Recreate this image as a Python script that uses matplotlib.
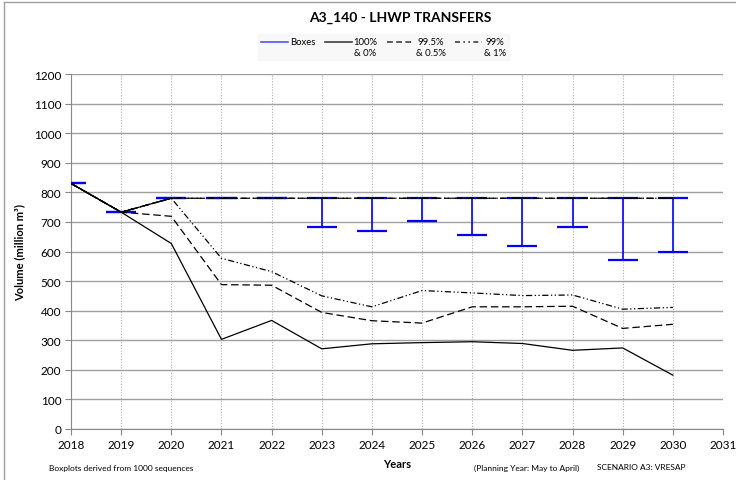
import matplotlib.pyplot as plt
from matplotlib.lines import Line2D
from matplotlib.legend_handler import HandlerLine2D

plt.rcParams['font.family'] = ['Lato', 'DejaVu Sans']

# planning years and simulated transfer volumes (million m3)
years = [2018, 2019, 2020, 2021, 2022, 2023, 2024, 2025, 2026, 2027, 2028, 2029, 2030]
box_top = [830, 733, 780, 780, 780, 780, 780, 780, 780, 780, 780, 780, 780]
box_bottom = [830, 733, 780, 780, 780, 682, 669, 702, 656, 619, 682, 572, 599]

upper_0 = [830, 733, 780, 780, 780, 780, 780, 780, 780, 780, 780, 780, 780]
upper_05 = [830, 733, 780, 780, 780, 780, 780, 780, 780, 780, 780, 780, 780]
upper_1 = [830, 733, 780, 780, 780, 780, 780, 780, 780, 780, 780, 780, 780]
lower_100 = [830, 733, 627, 303, 367, 271, 288, 292, 295, 289, 266, 274, 182]
lower_995 = [830, 733, 719, 488, 486, 394, 366, 358, 413, 413, 415, 340, 354]
lower_99 = [830, 733, 780, 577, 532, 450, 413, 468, 460, 451, 453, 405, 411]


class TopLineHandler(HandlerLine2D):
    """Legend handle drawn level with the first line of a two-line label."""

    def create_artists(self, legend, orig_handle, xdescent, ydescent,
                       width, height, fontsize, trans):
        arts = super().create_artists(legend, orig_handle, xdescent, ydescent,
                                      width, height, fontsize, trans)
        for a in arts:
            a.set_ydata([y + fontsize * 0.6 for y in a.get_ydata()])
        return arts


fig = plt.figure(figsize=(7.36, 4.81), dpi=100)
ax = fig.add_axes([71 / 736, 51 / 481, 652 / 736, 355 / 481])

# boxes (collapsed to whiskers)
cap = 0.3
ax.vlines(years, box_bottom, box_top, color='#0000ff', lw=1.2, zorder=3)
ax.hlines(box_top, [y - cap for y in years], [y + cap for y in years],
          color='#0000ff', lw=1.6, zorder=3)
ax.hlines(box_bottom, [y - cap for y in years], [y + cap for y in years],
          color='#0000ff', lw=1.6, zorder=3)

# percentile lines
ax.plot(years, lower_995, color='black', lw=0.9, ls=(0, (6, 3)), zorder=4)
ax.plot(years, upper_05, color='black', lw=0.9, ls=(0, (6, 3)), zorder=4)
ax.plot(years, lower_99, color='black', lw=0.9, ls=(0, (5, 2, 1, 2, 1, 2)), zorder=4)
ax.plot(years, upper_1, color='black', lw=0.9, ls=(0, (5, 2, 1, 2, 1, 2)), zorder=4)
ax.plot(years, lower_100, color='black', lw=0.9, zorder=5)
ax.plot(years[:3], upper_0[:3], color='black', lw=0.9, zorder=5)

ax.set_xlim(2018, 2031)
ax.set_ylim(0, 1200)
ax.set_xticks(range(2018, 2032))
ax.set_yticks(range(0, 1201, 100))
ax.tick_params(axis='both', labelsize=8.5, direction='out', length=4,
               color='#888888', pad=3)
ax.grid(axis='y', color='#a0a0a0', lw=1.0)
ax.grid(axis='x', color='#b0b0b0', lw=0.8, ls=(0, (1, 1.5)))
ax.set_axisbelow(True)
for side in ['top', 'right']:
    ax.spines[side].set_visible(False)
for side in ['left', 'bottom']:
    ax.spines[side].set_color('#888888')

ax.set_ylabel('Volume (million m³)', fontsize=8, fontweight='bold', labelpad=6)
ax.set_xlabel('Years', fontsize=8, fontweight='bold', labelpad=6)

fig.text(0.5435, 0.962, 'A3_140 - LHWP TRANSFERS', ha='center', va='center',
         fontsize=10, fontweight='bold')

handles = [
    Line2D([0], [0], color='#5050ff', lw=1.2),
    Line2D([0], [0], color='#404040', lw=1.2),
    Line2D([0], [0], color='#404040', lw=1.2, ls=(0, (3.5, 2))),
    Line2D([0], [0], color='#404040', lw=1.2, ls=(0, (3, 2, 1, 2, 1, 2))),
]
labels = ['Boxes\n ', '100%\n& 0%', '99.5%\n& 0.5%', '99%\n& 1%']
leg = fig.legend(handles, labels, loc='center', bbox_to_anchor=(0.521, 0.9),
                 ncol=4, fontsize=6.8, frameon=True, fancybox=False,
                 handlelength=2.9, handletextpad=0.15, columnspacing=1.0,
                 borderpad=0.35, handler_map={Line2D: TopLineHandler()})
for t in leg.get_texts():
    t.set_multialignment('center')
leg.get_frame().set_facecolor('#f7f7f7')
leg.get_frame().set_edgecolor('#f7f7f7')

fig.text(49 / 736, 1 - 469 / 481, 'Boxplots derived from 1000 sequences',
         ha='left', va='center', fontsize=6)
fig.text(474 / 736, 1 - 468 / 481, '(Planning Year: May to April)',
         ha='left', va='center', fontsize=6)
fig.text(597 / 736, 1 - 468 / 481, 'SCENARIO A3: VRESAP',
         ha='left', va='center', fontsize=6)

# outer frame lines along top and left edges
fig.add_artist(Line2D([4 / 736, 1], [1 - 3 / 481, 1 - 3 / 481],
                      transform=fig.transFigure, color='#a0a0a0', lw=1))
fig.add_artist(Line2D([4 / 736, 4 / 736], [0, 1 - 3 / 481],
                      transform=fig.transFigure, color='#a0a0a0', lw=1))

fig.savefig('out.png', dpi=100)
